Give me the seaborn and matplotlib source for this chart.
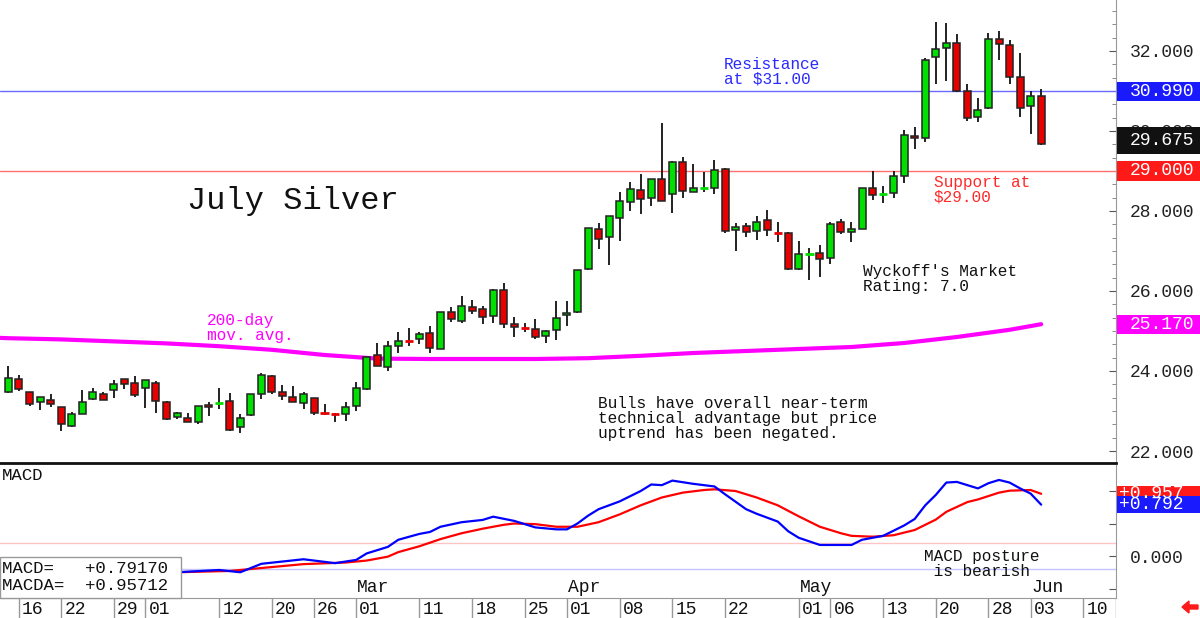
import numpy as np
import pandas as pd
import seaborn as sns
import matplotlib.pyplot as plt
import matplotlib.transforms as mtransforms
from matplotlib.patches import Rectangle, FancyArrow
from matplotlib.ticker import MultipleLocator, FixedLocator, FixedFormatter

# trading days (exchange holidays removed)
holidays = ['2024-01-15', '2024-02-19', '2024-03-29', '2024-05-27']
days = pd.bdate_range('2024-01-12', '2024-06-14')
days = days[~days.isin(pd.to_datetime(holidays))]

# daily OHLC, Jan 12 .. Jun 04
opens = [23.47, 23.79, 23.47, 23.22, 23.28, 23.09, 22.63, 22.93, 23.29, 23.43,
         23.52, 23.79, 23.71, 23.58, 23.71, 23.23, 22.84, 22.83, 22.73, 23.16,
         23.19, 23.26, 22.59, 22.89, 23.43, 23.88, 23.48, 23.36, 23.19, 23.32,
         22.96, 22.93, 22.92, 23.12, 23.55, 24.39, 24.09, 24.63, 24.78, 24.79,
         24.94, 24.56, 25.47, 25.26, 25.61, 25.54, 25.38, 26.03, 25.18, 25.10,
         25.06, 24.87, 25.02, 25.39, 25.48, 26.54, 27.55, 27.36, 27.83, 28.22,
         28.53, 28.33, 28.81, 28.42, 29.23, 28.48, 28.56, 28.58, 29.04, 27.52,
         27.62, 27.51, 27.78, 27.48, 27.46, 26.54, 26.92, 26.94, 26.82, 27.72,
         27.48, 27.55, 28.57, 28.42, 28.44, 28.88, 29.88, 29.83, 31.84, 32.07,
         32.21, 30.99, 30.34, 30.57, 32.29, 32.15, 31.34, 30.63, 30.88]
highs = [24.13, 23.90, 23.48, 23.35, 23.43, 23.10, 22.97, 23.53, 23.57, 23.48,
         23.78, 23.81, 23.88, 23.78, 23.76, 23.24, 22.98, 22.96, 23.12, 23.22,
         23.57, 23.44, 22.93, 23.43, 23.96, 23.91, 23.66, 23.62, 23.47, 23.33,
         23.17, 22.94, 23.22, 23.72, 24.36, 24.69, 24.76, 24.97, 25.08, 24.98,
         25.13, 25.48, 25.59, 25.88, 25.78, 25.63, 26.05, 26.20, 25.34, 25.21,
         25.29, 25.03, 25.76, 25.75, 26.53, 27.58, 27.69, 27.88, 28.48, 28.73,
         28.92, 28.81, 30.19, 29.24, 29.36, 29.17, 28.98, 29.28, 29.07, 27.69,
         27.69, 27.88, 28.03, 27.73, 27.47, 27.25, 27.07, 27.15, 27.73, 27.79,
         27.72, 28.57, 29.00, 28.62, 28.99, 30.03, 30.11, 31.82, 32.73, 32.69,
         32.42, 31.18, 30.82, 32.44, 32.50, 32.28, 31.94, 30.99, 31.05]
lows = [23.45, 23.51, 23.13, 23.03, 23.11, 22.51, 22.61, 22.93, 23.28, 23.27,
        23.33, 23.54, 23.36, 23.08, 22.94, 22.78, 22.81, 22.72, 22.67, 22.88,
        23.04, 22.49, 22.44, 22.88, 23.29, 23.42, 23.28, 23.22, 23.04, 22.90,
        22.90, 22.72, 22.74, 23.01, 23.53, 24.12, 24.01, 24.46, 24.63, 24.68,
        24.46, 24.55, 25.23, 25.19, 25.43, 25.17, 25.19, 25.07, 24.85, 24.98,
        24.79, 24.71, 24.77, 25.13, 25.46, 26.53, 27.06, 26.66, 27.24, 28.00,
        27.93, 28.13, 28.24, 27.94, 28.32, 28.47, 28.48, 28.42, 27.44, 27.00,
        27.34, 27.28, 27.38, 27.23, 26.53, 26.53, 26.28, 26.34, 26.68, 27.43,
        27.23, 27.54, 28.28, 28.19, 28.32, 28.69, 29.54, 29.72, 31.18, 31.26,
        30.98, 30.26, 30.23, 30.56, 31.78, 31.17, 30.34, 29.93, 29.65]
closes = [23.83, 23.54, 23.17, 23.34, 23.18, 22.67, 22.92, 23.22, 23.47, 23.28,
          23.68, 23.68, 23.39, 23.77, 23.25, 22.81, 22.96, 22.73, 23.12, 23.10,
          23.21, 22.53, 22.83, 23.43, 23.91, 23.47, 23.38, 23.23, 23.43, 22.96,
          22.94, 22.92, 23.09, 23.58, 24.35, 24.13, 24.62, 24.76, 24.76, 24.93,
          24.58, 25.47, 25.29, 25.63, 25.50, 25.36, 26.03, 25.18, 25.09, 25.08,
          24.85, 25.00, 25.32, 25.46, 26.52, 27.58, 27.31, 27.88, 28.24, 28.54,
          28.29, 28.80, 28.25, 29.23, 28.49, 28.57, 28.58, 29.03, 27.51, 27.61,
          27.48, 27.73, 27.53, 27.46, 26.56, 26.93, 26.93, 26.79, 27.68, 27.48,
          27.55, 28.57, 28.40, 28.43, 28.88, 29.90, 29.82, 31.78, 32.04, 32.19,
          30.99, 30.32, 30.53, 32.29, 32.17, 31.34, 30.57, 30.88, 29.675]

# 200-day moving average, read at sampled days (-1 = Jan 11, left edge)
ma_idx = [-1, 0, 5, 10, 15, 20, 25, 30, 35, 40, 45, 50, 55, 60, 65, 70, 75, 80, 85, 90, 95, 98]
ma_vals = [24.83, 24.82, 24.79, 24.74, 24.69, 24.62, 24.53, 24.40, 24.31, 24.30, 24.30, 24.30,
           24.32, 24.38, 24.45, 24.50, 24.55, 24.60, 24.70, 24.85, 25.03, 25.17]

# MACD (blue) and its average (red)
macd_idx = [0, 4, 8, 12, 16, 20, 22, 24, 26, 28, 31, 33, 34, 36, 37, 39, 40, 41, 43, 45,
            46, 48, 49, 50, 52, 53, 54, 55, 56, 58, 60, 61, 62, 63, 65, 67, 68, 70, 71, 73,
            74, 75, 77, 80, 81, 83, 84, 85, 86, 87, 88, 89, 90, 92, 93, 94, 95, 96, 97, 98]
macd_vals = [-0.27, -0.27, -0.27, -0.26, -0.25, -0.215, -0.25, -0.12, -0.085, -0.05,
             -0.11, -0.06, 0.04, 0.14, 0.25, 0.34, 0.37, 0.45, 0.52, 0.555,
             0.605, 0.54, 0.49, 0.44, 0.41, 0.41, 0.50, 0.62, 0.72, 0.84,
             1.00, 1.10, 1.09, 1.16, 1.11, 1.07, 0.95, 0.72, 0.65, 0.53,
             0.38, 0.28, 0.17, 0.17, 0.25, 0.31, 0.39, 0.47, 0.57, 0.78,
             0.94, 1.13, 1.14, 1.04, 1.12, 1.17, 1.13, 1.04, 0.96, 0.79]
sig_idx = [0, 8, 16, 21, 25, 28, 32, 34, 36, 37, 39, 41, 43, 45, 47, 48, 50, 52, 54, 56,
           58, 60, 62, 64, 66, 67, 69, 71, 73, 75, 77, 79, 80, 82, 84, 86, 88, 89, 91, 92,
           94, 95, 97, 98]
sig_vals = [-0.27, -0.27, -0.25, -0.23, -0.17, -0.125, -0.10, -0.07, -0.01, 0.06,
            0.15, 0.26, 0.35, 0.42, 0.48, 0.50, 0.49, 0.45, 0.45, 0.52,
            0.64, 0.78, 0.90, 0.975, 1.015, 1.026, 1.00, 0.90, 0.78, 0.61,
            0.45, 0.35, 0.31, 0.297, 0.32, 0.40, 0.56, 0.68, 0.83, 0.87,
            0.975, 1.005, 1.015, 0.957]

day_ticks = ['2024-01-16', '2024-01-22', '2024-01-29', '2024-02-01', '2024-02-12',
             '2024-02-20', '2024-02-26', '2024-03-01', '2024-03-11', '2024-03-18',
             '2024-03-25', '2024-04-01', '2024-04-08', '2024-04-15', '2024-04-22',
             '2024-05-01', '2024-05-06', '2024-05-13', '2024-05-20', '2024-05-28',
             '2024-06-03', '2024-06-10']
month_names = ['Mar', 'Apr', 'May', 'Jun']
month_dates = ['2024-03-01', '2024-04-01', '2024-05-01', '2024-06-03']

resistance = 30.99
support = 29.00
last_price = 29.675
ma_last = 25.17
macd_text = '+0.79170'
macda_text = '+0.95712'
macd_last = 0.792
macda_last = 0.957

# ---------------------------------------------------------------
sns.set_style('white')
plt.rcParams['font.family'] = ['Liberation Mono', 'DejaVu Sans Mono']

W, H = 1200, 618
fig = plt.figure(figsize=(W / 100, H / 100), dpi=100)
ax1 = fig.add_axes([0, 155 / H, 1116 / W, 463 / H])
ax2 = fig.add_axes([0, 20 / H, 1116 / W, 133 / H], sharex=ax1)
ax3 = fig.add_axes([0, 0, 1116 / W, 20 / H], sharex=ax1)

xlim = (-0.80, 105.1)
green, red = '#00e000', '#e80000'

o = np.array(opens); h = np.array(highs); l = np.array(lows); c = np.array(closes)
x = np.arange(len(c))
cols = np.where(c >= o, green, red)
doji = np.abs(c - o) < 0.03

# candles
ax1.vlines(x, l, h, color='#111111', lw=1.3, zorder=3)
nb = ~doji
ax1.bar(x[nb], (c - o)[nb], bottom=o[nb], width=0.66, color=cols[nb],
        edgecolor='#222222', linewidth=1.1, zorder=4)
ax1.hlines(c[doji], x[doji] - 0.4, x[doji] + 0.4, colors=cols[doji], lw=2, zorder=4)

# 200-day average
sns.lineplot(x=ma_idx, y=ma_vals, ax=ax1, color='#ff00ff', lw=3, zorder=2)

ax1.axhline(resistance, color='#6a6aff', lw=1, zorder=1)
ax1.axhline(support, color='#ff7070', lw=1, zorder=1)

ax1.set_xlim(*xlim)
ax1.set_ylim(21.7, 33.275)
ax1.yaxis.tick_right()
ax1.yaxis.set_major_locator(FixedLocator([22, 24, 26, 28, 30, 32]))
ax1.yaxis.set_minor_locator(MultipleLocator(1 / 3))
ax1.yaxis.set_major_formatter(FixedFormatter(['22.000', '24.000', '26.000',
                                              '28.000', '30.000', '32.000']))
ax1.tick_params(axis='y', which='major', direction='in', length=5, pad=10,
                labelsize=13, colors='#555555', labelcolor='#222222', right=True)
ax1.tick_params(axis='y', which='minor', direction='in', length=3, colors='#777777', right=True)
ax1.tick_params(axis='x', bottom=False, labelbottom=False)
for s in ['left', 'top']:
    ax1.spines[s].set_visible(False)
ax1.spines['right'].set_color('#999999')
ax1.spines['bottom'].set_color('#111111')
ax1.spines['bottom'].set_linewidth(2)
ax1.set_xlabel('')
ax1.set_ylabel('')

# notes on price panel
ax1.text(16.9, 28.25, 'July Silver', fontsize=23, va='center', ha='left', color='#111111')
ax1.text(67.9, 31.85, 'Resistance\nat $31.00', fontsize=11.6, va='top', color='#2a2aff',
         linespacing=1.0)
ax1.text(87.8, 28.90, 'Support at\n$29.00', fontsize=11.6, va='top', color='#ff2a2a',
         linespacing=1.0)
ax1.text(81.1, 26.68, "Wyckoff's Market\nRating: 7.0", fontsize=11.6, va='top',
         color='#111111', linespacing=1.0)
ax1.text(18.8, 25.45, '200-day\nmov. avg.', fontsize=11.6, va='top', color='#ff00ff',
         linespacing=1.0)
ax1.text(55.9, 23.38, 'Bulls have overall near-term\ntechnical advantage but price\n'
         'uptrend has been negated.', fontsize=11.6, va='top', color='#111111',
         linespacing=1.0)


def tag(ax, y0, y1, ty, text, fc, tx=14):
    tr = mtransforms.blended_transform_factory(ax.transAxes, ax.transData)
    ax.add_patch(Rectangle((1.0 + 1 / 1116, y0), 84 / 1116, y1 - y0, transform=tr,
                           fc=fc, ec='none', clip_on=False, zorder=6))
    ax.text(1.0 + tx / 1116, ty, text, transform=tr, color='white', fontsize=13,
            va='center', ha='left', clip_on=False, zorder=7)


tag(ax1, resistance - 0.24, resistance + 0.24, resistance, f'{resistance:.3f}', '#1a1aff')
tag(ax1, support - 0.24, support + 0.24, support, f'{support:.3f}', '#ff1a1a')
tag(ax1, ma_last - 0.24, ma_last + 0.24, ma_last, f'{ma_last:.3f}', '#ff00ff')
tag(ax1, last_price - 0.24, last_price + 0.42, last_price + 0.09, f'{last_price:.3f}', '#111111')

# MACD panel
ax2.axhline(0.2, color='#ffc4c4', lw=1, zorder=1)
ax2.axhline(-0.2, color='#c4c4ff', lw=1, zorder=1)
sns.lineplot(x=macd_idx, y=macd_vals, ax=ax2, color='#0000ff', lw=1.6, zorder=3)
sns.lineplot(x=sig_idx, y=sig_vals, ax=ax2, color='#ff0000', lw=1.6, zorder=2)
ax2.set_ylim(-0.646, 1.4)
ax2.yaxis.tick_right()
ax2.yaxis.set_major_locator(FixedLocator([-0.5, 0, 0.5, 1.0]))
ax2.yaxis.set_major_formatter(FixedFormatter(['', '0.000', '', '']))
ax2.tick_params(axis='y', direction='in', length=5, pad=10, labelsize=13,
                colors='#555555', labelcolor='#222222', right=True)
ax2.tick_params(axis='x', bottom=False, labelbottom=False)
for s in ['left', 'top']:
    ax2.spines[s].set_visible(False)
ax2.spines['right'].set_color('#999999')
ax2.spines['bottom'].set_color('#999999')
ax2.set_xlabel('')
ax2.set_ylabel('')

ax2.text(0.002, 1.246, 'MACD', transform=mtransforms.blended_transform_factory(
    ax2.transAxes, ax2.transData), fontsize=12.5, va='center', ha='left', color='#111111')
ax2.text(86.9, 0.11, 'MACD posture\n is bearish', fontsize=11.6, va='top',
         color='#111111', linespacing=1.0)

for name, d in zip(month_names, month_dates):
    ax2.text(days.get_loc(pd.Timestamp(d)) + 0.1, -0.49, name, fontsize=13,
             va='center', ha='left', color='#111111')

tag(ax2, macda_last - 0.125, macda_last + 0.125, macda_last, f'+{macda_last:.3f}',
    '#ff1a1a', tx=3)
tag(ax2, macd_last - 0.125, macd_last + 0.125, macd_last, f'+{macd_last:.3f}',
    '#1a1aff', tx=3)

# value box
ax2.add_patch(Rectangle((xlim[0], -0.646), 17.2, 0.63, fc='white', ec='#999999',
                        lw=1, zorder=8, clip_on=False))
ax2.text(xlim[0] + 0.15, -0.19, 'MACD=   ' + macd_text, fontsize=12.5, va='center',
         ha='left', zorder=9, color='#111111')
ax2.text(xlim[0] + 0.15, -0.45, 'MACDA=  ' + macda_text, fontsize=12.5, va='center',
         ha='left', zorder=9, color='#111111')

# date strip
tick_pos = [days.get_loc(pd.Timestamp(d)) for d in day_ticks]
ax3.vlines(tick_pos, 0, 1, color='#999999', lw=1)
for p, d in zip(tick_pos, day_ticks):
    ax3.text(p + 0.3, 0.42, d[-2:], fontsize=13, va='center', ha='left', color='#111111')
ax3.set_ylim(0, 1)
ax3.set_xlim(*xlim)
ax3.axis('off')
ax3.axvline(xlim[1], color='#999999', lw=1)

fig.add_artist(FancyArrow(1198 / W, 11 / H, -16 / W, 0, width=4 / H, head_width=12 / H,
                          head_length=7 / W, length_includes_head=True,
                          transform=fig.transFigure, color='#ff1a1a'))

fig.savefig('out.png', dpi=100)
